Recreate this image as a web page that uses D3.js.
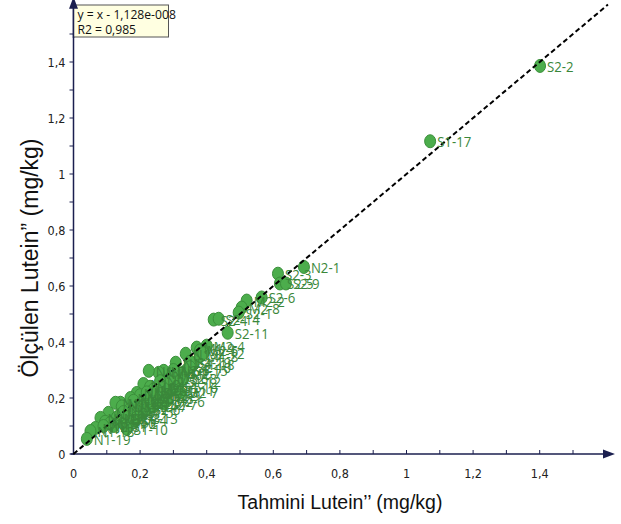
<!DOCTYPE html>
<html>
<head>
<meta charset="utf-8">
<script src="https://cdn.jsdelivr.net/npm/d3@7/dist/d3.min.js"></script>
<style>
  html, body { margin: 0; padding: 0; background: #fff; }
  svg { display: block; }
  .narrow { font-family: "DejaVu Sans Condensed", "Liberation Sans Narrow", sans-serif; }
  .segoe { font-family: "Open Sans", "Noto Sans", sans-serif; }
</style>
</head>
<body>
<svg id="chart" width="621" height="524"></svg>
<script>
// ---- data ----
const sampleNames = [
  "S2-2","S1-17","N2-1","S2-3","S2-5","S2-9","S2-6","M2-2","M2-8","S2-1","S2-4","S2-14","S2-11","M2-4",
  "N1-3","N1-4","N1-5","N1-6","N1-7","N1-8","N1-9","N1-10","N1-12","N1-13","N1-14","N1-16","N1-17","N1-18","N1-19",
  "N1-1","N1-2","N1-11","N1-15",
  "S1-1","S1-2","S1-3","S1-4","S1-5","S1-6","S1-7","S1-8","S1-9","S1-10","S1-11","S1-12","S1-13","S1-14","S1-15","S1-16","S1-18","S1-19",
  "M1-1","M1-2","M1-3","M1-4","M1-5","M1-6","M1-7","M1-8","M1-9","M1-10",
  "M2-1","M2-3","M2-5","M2-6","M2-7",
  "N2-2","N2-3","N2-4","N2-5","N2-6","N2-7","N2-8",
  "S2-7","S2-8","S2-10","S2-12","S2-13"
];
const predicted = [
  1.401, 1.071, 0.692, 0.614, 0.620, 0.638, 0.565, 0.520, 0.505, 0.496, 0.421, 0.436, 0.463, 0.400,
  0.337, 0.307, 0.271, 0.256, 0.226, 0.210, 0.190, 0.171, 0.141, 0.126, 0.105, 0.081, 0.066, 0.051, 0.040,
  0.230, 0.300, 0.145, 0.095,
  0.120, 0.150, 0.160, 0.180, 0.200, 0.220, 0.240, 0.260, 0.280, 0.160, 0.300, 0.320, 0.250, 0.190, 0.340, 0.310, 0.360, 0.350,
  0.130, 0.170, 0.210, 0.230, 0.270, 0.290, 0.330, 0.380, 0.370, 0.110,
  0.200, 0.240, 0.380, 0.280, 0.320,
  0.140, 0.180, 0.220, 0.260, 0.300, 0.150, 0.090,
  0.270, 0.330, 0.350, 0.390, 0.190
];
const measured = [
  1.386, 1.117, 0.668, 0.644, 0.609, 0.609, 0.559, 0.548, 0.523, 0.505, 0.480, 0.483, 0.433, 0.387,
  0.358, 0.326, 0.297, 0.290, 0.297, 0.250, 0.218, 0.200, 0.183, 0.183, 0.147, 0.129, 0.093, 0.082, 0.054,
  0.240, 0.290, 0.170, 0.115,
  0.100, 0.110, 0.130, 0.120, 0.150, 0.160, 0.170, 0.200, 0.210, 0.090, 0.230, 0.260, 0.220, 0.170, 0.300, 0.240, 0.320, 0.330,
  0.130, 0.160, 0.190, 0.200, 0.240, 0.270, 0.290, 0.350, 0.380, 0.110,
  0.210, 0.230, 0.370, 0.190, 0.220,
  0.140, 0.190, 0.220, 0.260, 0.300, 0.150, 0.100,
  0.180, 0.270, 0.310, 0.360, 0.130
];
const majorTicks = [0, 0.2, 0.4, 0.6, 0.8, 1, 1.2, 1.4];
const minorTicks = [0.1, 0.3, 0.5, 0.7, 0.9, 1.1, 1.3, 1.5];
const tickLabels = ["0", "0,2", "0,4", "0,6", "0,8", "1", "1,2", "1,4"];
const equationLines = ["y = x - 1,128e-008", "R2 = 0,985"];
const xTitle = "Tahmini Lutein\u2019\u2019 (mg/kg)";
const yTitle = "\u00D6l\u00E7\u00FClen Lutein\u201D (mg/kg)";

// ---- chart ----
const svg = d3.select("#chart");
const axisColor = "#1b1f4f";
const x = d3.scaleLinear().domain([0, 1.59]).range([73.5, 73.5 + 1.59 * 333]);
const y = d3.scaleLinear().domain([0, 1.59]).range([454, 454 - 1.59 * 280]);

// axes
const xAxis = svg.append("g").attr("transform", `translate(0,${y(0)})`);
xAxis.append("line").attr("x1", x(0) - 3).attr("x2", x(1.59) + 2)
  .attr("stroke", axisColor).attr("stroke-width", 1.5);
xAxis.append("path").attr("d", `M${x(1.59) + 12},0 L${x(1.59)},-4.5 L${x(1.59)},4.5 Z`).attr("fill", axisColor);
xAxis.selectAll(".xt").data(majorTicks.concat(minorTicks)).join("line")
  .attr("x1", d => x(d)).attr("x2", d => x(d)).attr("y1", 0).attr("y2", -4)
  .attr("stroke", axisColor).attr("stroke-width", 1);
xAxis.selectAll(".xl").data(majorTicks).join("text")
  .attr("class", "narrow")
  .attr("x", d => x(d)).attr("y", 24)
  .attr("text-anchor", "middle").attr("font-size", 12.5).attr("fill", "#222")
  .text((d, i) => tickLabels[i]);

const yAxis = svg.append("g").attr("transform", `translate(${x(0)},0)`);
yAxis.append("line").attr("y1", y(0) + 1).attr("y2", y(1.59) - 2)
  .attr("stroke", axisColor).attr("stroke-width", 1.5);
yAxis.selectAll(".yt").data(majorTicks.concat(minorTicks)).join("line")
  .attr("y1", d => y(d)).attr("y2", d => y(d)).attr("x1", 0).attr("x2", -4)
  .attr("stroke", axisColor).attr("stroke-width", 1);
yAxis.selectAll(".yl").data(majorTicks).join("text")
  .attr("class", "narrow")
  .attr("x", -8).attr("y", d => y(d) + 4.5)
  .attr("text-anchor", "end").attr("font-size", 12.5).attr("fill", "#222")
  .text((d, i) => tickLabels[i]);

// axis titles
svg.append("text").attr("x", 340).attr("y", 509).attr("text-anchor", "middle")
  .attr("font-family", "Liberation Sans, Arial, sans-serif").attr("font-size", 19.5).attr("fill", "#111")
  .text(xTitle);
svg.append("text").attr("transform", "translate(38,258) rotate(-90)").attr("text-anchor", "middle")
  .attr("font-family", "Liberation Sans, Arial, sans-serif").attr("font-size", 23).attr("fill", "#111")
  .text(yTitle);

// points
const pts = sampleNames.map((n, i) => ({ name: n, px: predicted[i], py: measured[i] }));
svg.append("g").selectAll("ellipse").data(pts).join("ellipse")
  .attr("cx", d => x(d.px)).attr("cy", d => y(d.py))
  .attr("rx", 5.5).attr("ry", 6.5)
  .attr("fill", "#4cad4c").attr("stroke", "#3b8f3b").attr("stroke-width", 1);

// fit line (y = x)
svg.append("line")
  .attr("x1", x(0)).attr("y1", y(0)).attr("x2", x(1.605)).attr("y2", y(1.605))
  .attr("stroke", "#000").attr("stroke-width", 2).attr("stroke-dasharray", "5,3");

// labels
svg.append("g").selectAll("text").data(pts).join("text")
  .attr("class", "segoe")
  .attr("x", d => x(d.px) + 7).attr("y", d => y(d.py) + 6)
  .attr("font-size", 15).attr("fill", "#3a873a")
  .attr("transform", d => `translate(${x(d.px) + 7},0) scale(0.88,1) translate(${-(x(d.px) + 7)},0)`)
  .text(d => d.name);

// equation box
const box = svg.append("g");
box.append("rect").attr("x", x(0)).attr("y", 5).attr("width", 95).attr("height", 32)
  .attr("fill", "#ffffe1").attr("stroke", "#555").attr("stroke-width", 1);
box.selectAll("text").data(equationLines).join("text")
  .attr("class", "segoe")
  .attr("x", x(0) + 4).attr("y", (d, i) => 19.5 + i * 14.5)
  .attr("font-size", 13.5).attr("fill", "#111")
  .attr("transform", `translate(${x(0) + 4},0) scale(0.9,1) translate(${-(x(0) + 4)},0)`)
  .text(d => d);
// y-axis line and arrow on top of the box
svg.append("line").attr("x1", x(0)).attr("x2", x(0)).attr("y1", 5).attr("y2", 38)
  .attr("stroke", axisColor).attr("stroke-width", 1.5);
svg.append("path").attr("d", `M${x(0)},${y(1.59) - 12} L${x(0) - 4.5},${y(1.59)} L${x(0) + 4.5},${y(1.59)} Z`).attr("fill", axisColor);
</script>
</body>
</html>
